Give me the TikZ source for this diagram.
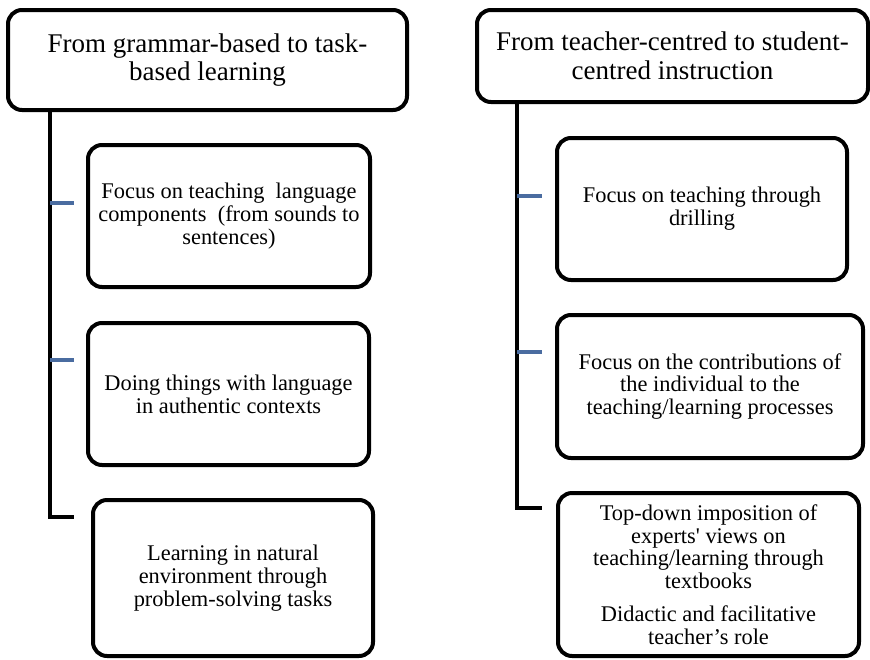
\documentclass[tikz,border=0pt]{standalone}
\usepackage{fontspec}
\setmainfont{Liberation Serif}[Ligatures=TeXOff]
\definecolor{tickblue}{RGB}{74,108,160}
\begin{document}
\begin{tikzpicture}[x=1pt,y=-1pt,
  box/.style={draw=black,line width=4pt,rounded corners=14pt,fill=white,
    align=center,inner sep=0pt,font=\fontsize{22.4}{22.8}\selectfont},
  headbox/.style={box,font=\fontsize{27}{28.5}\selectfont},
  trunk/.style={draw=black,line width=4pt},
  tickline/.style={draw=tickblue,line width=4pt}]
\useasboundingbox (0,0) rectangle (870,659);

% left column
\node[headbox,minimum width=399pt,minimum height=100pt] (LH) at (207.5,60)
  {From grammar-based to task-\\based learning};
\node[box,minimum width=282pt,minimum height=142pt] (L1) at (229,216)
  {Focus on teaching\ \ language\\components\ \ (from sounds to\\sentences)};
\node[box,minimum width=281pt,minimum height=142pt] (L2) at (228.5,394)
  {Doing things with language\\in authentic contexts};
\node[box,minimum width=280pt,minimum height=156pt] (L3) at (233,578)
  {Learning in natural\\environment through\\problem-solving tasks};

% right column
\node[headbox,minimum width=391pt,minimum height=92pt] (RH) at (672.5,56)
  {From teacher-centred to student-\\centred instruction};
\node[box,minimum width=290pt,minimum height=142pt] (R1) at (702,209)
  {Focus on teaching through\\drilling};
\node[box,minimum width=306pt,minimum height=143pt] (R2) at (710,386.5)
  {Focus on the contributions of\\the individual to the\\teaching/learning processes};
\node[box,minimum width=301pt,minimum height=163pt] (R3) at (708.5,574.5)
  {Top-down imposition of\\experts' views on\\teaching/learning through\\textbooks\\[10pt]Didactic and facilitative\\teacher’s role};

% trunks
\coordinate (Lelbow) at (50,517);
\coordinate (Lend) at (74,517);
\draw[trunk] (LH.south -| Lelbow) |- (Lend);
\coordinate (Relbow) at (517,508);
\coordinate (Rend) at (542,508);
\draw[trunk] (RH.south -| Relbow) |- (Rend);

% blue ticks
\coordinate (Lt1) at (74,203);
\coordinate (Lt2) at (74,360);
\coordinate (Rt1) at (542,196);
\coordinate (Rt2) at (542,352);
\draw[tickline] (Lt1 -| Lelbow) -- (Lt1);
\draw[tickline] (Lt2 -| Lelbow) -- (Lt2);
\draw[tickline] (Rt1 -| Relbow) -- (Rt1);
\draw[tickline] (Rt2 -| Relbow) -- (Rt2);
\end{tikzpicture}
\end{document}
